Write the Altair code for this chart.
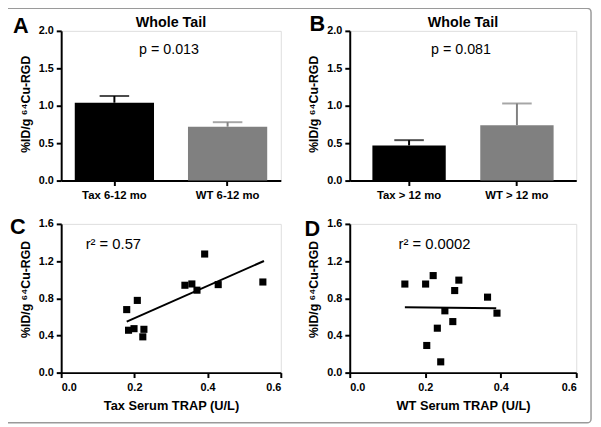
import altair as alt
import pandas as pd

FONT = "Liberation Sans"

# ---- data ----
groups_a = ["Tax 6-12 mo", "WT 6-12 mo"]
means_a = [1.04, 0.72]
sem_a = [0.09, 0.06]

groups_b = ["Tax > 12 mo", "WT > 12 mo"]
means_b = [0.47, 0.74]
sem_b = [0.07, 0.29]

bar_colors = ["#000000", "#808080"]

bar_ticks = [0, 0.5, 1.0, 1.5, 2.0]
sc_yticks = [0, 0.4, 0.8, 1.2, 1.6]
sc_xticks = [0, 0.2, 0.4, 0.6]

tax_trap = [0.179, 0.208, 0.184, 0.199, 0.226, 0.223, 0.338, 0.357, 0.371, 0.392, 0.429, 0.551]
tax_rgd = [0.678, 0.777, 0.456, 0.473, 0.466, 0.385, 0.940, 0.954, 0.887, 1.276, 0.947, 0.975]
tax_fit_x = [0.179, 0.554]
tax_fit_y = [0.548, 1.201]

wt_trap = [0.146, 0.201, 0.221, 0.289, 0.278, 0.365, 0.390, 0.252, 0.273, 0.232, 0.204, 0.241]
wt_rgd = [0.953, 0.953, 1.044, 0.995, 0.883, 0.812, 0.640, 0.665, 0.549, 0.478, 0.292, 0.116]
wt_fit_x = [0.146, 0.388]
wt_fit_y = [0.703, 0.693]

YTITLE = "%ID/g \u2076\u2074Cu-RGD"

W1, W2 = 223, 230
H = 152


def yaxis(vals, ty):
    return alt.Axis(values=vals, format=".1f", title=YTITLE, grid=False,
                    labelOverlap=False, tickCount=len(vals),
                    domainColor="black", domainWidth=2, tickColor="black",
                    tickWidth=2, tickSize=5, labelPadding=3,
                    labelFont=FONT, labelFontWeight="bold", labelFontSize=11,
                    labelColor="black", titleFont=FONT, titleFontWeight="bold",
                    titleFontSize=12.5, titleColor="black", titlePadding=6,
                    titleY=ty)


def txt(s, x, y, size, weight="normal", align="center"):
    return alt.Chart(alt.Data(values=[{"t": s}])).mark_text(
        font=FONT, fontSize=size, fontWeight=weight, color="black",
        align=align, baseline="middle"
    ).encode(text="t:N", x=alt.value(x), y=alt.value(y))


def bar_panel(groups, means, sems, width, letter, ptext, pi, po, lx, ly):
    df = pd.DataFrame({"g": groups, "m": means, "s": sems})
    base = alt.Chart(df).transform_calculate(top="datum.m + datum.s")
    xax = alt.Axis(title=None, labelAngle=0, domainColor="black", domainWidth=2,
                   tickColor="black", tickWidth=2, tickSize=5, labelPadding=4,
                   labelFont=FONT, labelFontWeight="bold", labelFontSize=11.5,
                   labelColor="black")
    xscale = alt.Scale(paddingInner=pi, paddingOuter=po)
    xenc = alt.X("g:N", sort=groups, scale=xscale, axis=xax)
    col = alt.Color("g:N", scale=alt.Scale(domain=groups, range=bar_colors), legend=None)
    yscale = alt.Scale(domain=[0, 2])
    ya = yaxis(bar_ticks, 74)
    bars = base.mark_bar().encode(
        x=xenc, y=alt.Y("m:Q", scale=yscale, axis=ya), color=col)
    rule = base.mark_rule(strokeWidth=2).encode(
        x=xenc, y=alt.Y("m:Q", scale=yscale, axis=ya), y2="top:Q", color=col)
    cap = base.mark_tick(thickness=2, size=30).encode(
        x=xenc, y=alt.Y("top:Q", scale=yscale, axis=ya), color=col)
    layers = [bars, rule, cap,
              txt("Whole Tail", width / 2, -8, 14.5, "bold"),
              txt(ptext, width / 2 - 2, 19, 14.5),
              txt(letter, lx, ly, 22, "bold")]
    return alt.layer(*layers).properties(width=width, height=H)


def scatter_panel(xs, ys, fx, fy, width, letter, xtitle, rtext, rx, lx, ly):
    df = pd.DataFrame({"x": xs, "y": ys})
    fit = pd.DataFrame({"x": fx, "y": fy})
    xscale = alt.Scale(domain=[0, 0.6])
    yscale = alt.Scale(domain=[0, 1.6])
    xax = alt.Axis(values=sc_xticks, format=".1f", title=xtitle, grid=False,
                   labelOverlap=False,
                   domainColor="black", domainWidth=2, tickColor="black", tickWidth=2,
                   tickSize=5, labelPadding=4, labelFont=FONT, labelFontWeight="bold",
                   labelFontSize=11, labelColor="black", titleFont=FONT,
                   titleFontWeight="bold", titleFontSize=13, titleColor="black",
                   titlePadding=7)
    ya = yaxis(sc_yticks, 66)
    xe = alt.X("x:Q", scale=xscale, axis=xax)
    ye = alt.Y("y:Q", scale=yscale, axis=ya)
    pts = alt.Chart(df).mark_point(shape="square", filled=True, size=52, color="black",
                                   opacity=1).encode(x=xe, y=ye)
    line = alt.Chart(fit).mark_line(color="black", strokeWidth=2).encode(x=xe, y=ye)
    layers = [pts, line, txt(rtext, rx, 20, 15), txt(letter, lx, ly, 22, "bold")]
    return alt.layer(*layers).properties(width=width, height=151)


border = alt.Chart(alt.Data(values=[{}])).mark_rect(
    fill=None, stroke="#9a9a9a", strokeWidth=1.5, cornerRadius=4
).encode(x=alt.value(-57), x2=alt.value(538), y=alt.value(-23), y2=alt.value(398))

pa = bar_panel(groups_a, means_a, sem_a, W1, "A", "p = 0.013", 0.30, 0.12, -41, -5)
pa = alt.layer(pa, border)
pb = bar_panel(groups_b, means_b, sem_b, W2, "B", "p = 0.081", 0.32, 0.21, -33, -7)
pc = scatter_panel(tax_trap, tax_rgd, tax_fit_x, tax_fit_y, W1, "C",
                   "Tax Serum TRAP (U/L)", "r\u00b2 = 0.57", 53, -44, 3)
pd_ = scatter_panel(wt_trap, wt_rgd, wt_fit_x, wt_fit_y, W2, "D",
                    "WT Serum TRAP (U/L)", "r\u00b2 = 0.0002", 86, -38, 5)

chart = alt.concat(pa, pb, pc, pd_, columns=2, bounds="flush",
                   spacing={"row": 44, "column": 70}).properties(
    padding={"left": -5, "top": -5, "right": 0, "bottom": 0}
).configure_view(stroke=None).configure(background="white")

chart.save("out.html", embed_options={"renderer": "svg", "actions": False})
